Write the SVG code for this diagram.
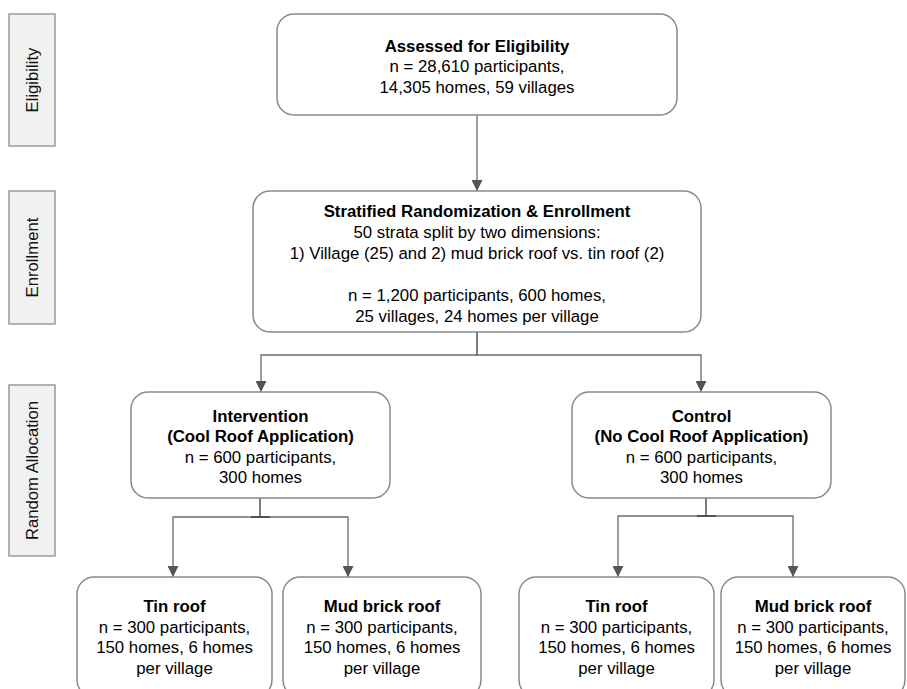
<svg xmlns="http://www.w3.org/2000/svg" width="907" height="689" viewBox="0 0 907 689">
<defs>
<style>
.stage rect{fill:#f1f1f1;stroke:#9a9a9a;stroke-width:1.5}
.stage text{font-family:"Liberation Sans",Arial,sans-serif;font-size:16.7px;fill:#111;text-anchor:middle}
.node rect{fill:#fff;stroke:#8a8a8a;stroke-width:1.5}
.node text{font-family:"Liberation Sans",Arial,sans-serif;font-size:16.8px;fill:#000;text-anchor:middle}
.node .t{font-weight:bold}
.conn path{fill:none;stroke:#6b6b6b;stroke-width:1.3}
.conn .tick{stroke:#444;stroke-width:1.6}
</style>
<marker id="ah" viewBox="0 0 10 10" refX="10" refY="5" markerWidth="12" markerHeight="11" markerUnits="userSpaceOnUse" orient="auto">
<path d="M0,0 L10,5 L0,10 z" fill="#555"/>
</marker>
</defs>
<rect width="907" height="689" fill="#fff"/>

<g id="stage-eligibility" class="stage"><rect x="9" y="14" width="46" height="132"/><text transform="translate(38,80) rotate(-90)">Eligibility</text></g>
<g id="stage-enrollment" class="stage"><rect x="9" y="191" width="46" height="133"/><text transform="translate(38,257.5) rotate(-90)">Enrollment</text></g>
<g id="stage-allocation" class="stage"><rect x="9" y="385" width="46" height="171"/><text transform="translate(38,470.5) rotate(-90)">Random Allocation</text></g>

<g id="connectors" class="conn">
<path d="M477,115 V191" marker-end="url(#ah)"/>
<path d="M477,332 V355 H261 V392" marker-end="url(#ah)"/>
<path d="M477,332 V355 H701 V392" marker-end="url(#ah)"/>
<path d="M260,498 V517 H173 V577" marker-end="url(#ah)"/>
<path d="M260,498 V517 H348 V577" marker-end="url(#ah)"/>
<path class="tick" d="M251,517 H270"/>
<path d="M706,498 V516 H618 V577" marker-end="url(#ah)"/>
<path d="M706,498 V516 H793 V577" marker-end="url(#ah)"/>
<path class="tick" d="M697,516 H716"/>
</g>

<g id="assessed" class="node"><rect x="277" y="14" width="400" height="101" rx="17"/>
<text class="t" x="477" y="51.5">Assessed for Eligibility</text>
<text x="477" y="72">n = 28,610 participants,</text>
<text x="477" y="92.5">14,305 homes, 59 villages</text></g>

<g id="enrollment" class="node"><rect x="253" y="191" width="448" height="141" rx="17"/>
<text class="t" x="477" y="217">Stratified Randomization &amp; Enrollment</text>
<text x="477" y="238">50 strata split by two dimensions:</text>
<text x="477" y="259">1) Village (25) and 2) mud brick roof vs. tin roof (2)</text>
<text x="477" y="300.5">n = 1,200 participants, 600 homes,</text>
<text x="477" y="321.5">25 villages, 24 homes per village</text></g>

<g id="intervention" class="node"><rect x="131" y="392" width="259" height="106" rx="17"/>
<text class="t" x="260.5" y="421.5">Intervention</text>
<text class="t" x="260.5" y="442">(Cool Roof Application)</text>
<text x="260.5" y="462.5">n = 600 participants,</text>
<text x="260.5" y="483">300 homes</text></g>

<g id="control" class="node"><rect x="572" y="392" width="259" height="106" rx="17"/>
<text class="t" x="701.5" y="421.5">Control</text>
<text class="t" x="701.5" y="442">(No Cool Roof Application)</text>
<text x="701.5" y="462.5">n = 600 participants,</text>
<text x="701.5" y="483">300 homes</text></g>

<g id="int-tin" class="node"><rect x="77" y="577" width="195" height="120" rx="17"/>
<text class="t" x="174.5" y="612">Tin roof</text>
<text x="174.5" y="632.5">n = 300 participants,</text>
<text x="174.5" y="653">150 homes, 6 homes</text>
<text x="174.5" y="673.5">per village</text></g>

<g id="int-mud" class="node"><rect x="283" y="577" width="198" height="120" rx="17"/>
<text class="t" x="382" y="612">Mud brick roof</text>
<text x="382" y="632.5">n = 300 participants,</text>
<text x="382" y="653">150 homes, 6 homes</text>
<text x="382" y="673.5">per village</text></g>

<g id="ctl-tin" class="node"><rect x="519" y="577" width="195" height="120" rx="17"/>
<text class="t" x="616.5" y="612">Tin roof</text>
<text x="616.5" y="632.5">n = 300 participants,</text>
<text x="616.5" y="653">150 homes, 6 homes</text>
<text x="616.5" y="673.5">per village</text></g>

<g id="ctl-mud" class="node"><rect x="721" y="577" width="184" height="120" rx="17"/>
<text class="t" x="813" y="612">Mud brick roof</text>
<text x="813" y="632.5">n = 300 participants,</text>
<text x="813" y="653">150 homes, 6 homes</text>
<text x="813" y="673.5">per village</text></g>
</svg>
